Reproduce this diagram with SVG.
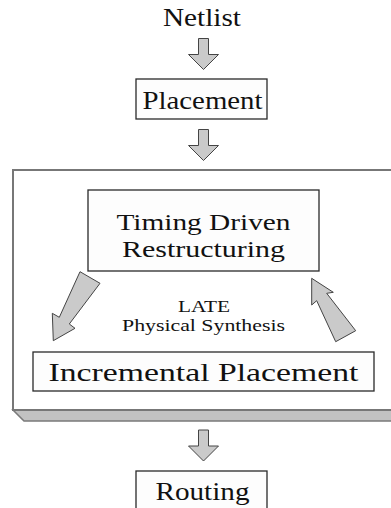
<svg xmlns="http://www.w3.org/2000/svg" width="391" height="508" viewBox="0 0 391 508">
  <style>
    .lbl { font-family: "Liberation Serif", "DejaVu Serif", serif; fill: #111; text-anchor: middle; }
    .big { font-size: 26px; }
    .pair { font-size: 24px; }
    .small { font-size: 16px; }
    .box { fill: #fdfdfd; stroke: #2a2a2a; stroke-width: 1.3; }
    .frame { fill: #ffffff; stroke: #777; stroke-width: 2; }
    .depth { fill: #c2c2c2; stroke: #7a7a7a; stroke-width: 1.5; }
    .arrow { fill: #cacaca; stroke: #444; stroke-width: 1; stroke-linejoin: miter; }
  </style>
  <defs>
    <!-- straight down block arrow, tip at origin -->
    <path id="down" d="M -5 -31 H 5 V -15 H 15 L 0 0 L -15 -15 H -5 Z"/>
  </defs>

  <rect width="391" height="508" fill="#ffffff"/>

  <!-- LATE frame with its extruded bottom edge -->
  <g id="late-frame">
    <polygon class="depth" points="13,410 395,410 395,421 24,421"/>
    <rect class="frame" x="13" y="170" width="390" height="240"/>
  </g>

  <g id="netlist">
    <text class="lbl big" x="202" y="26" textLength="78" lengthAdjust="spacingAndGlyphs">Netlist</text>
  </g>

  <g id="placement">
    <rect class="box" x="136" y="79" width="131" height="40"/>
    <text class="lbl big" x="202.5" y="109" textLength="120" lengthAdjust="spacingAndGlyphs">Placement</text>
  </g>

  <g id="timing-driven-restructuring">
    <rect class="box" x="88" y="190" width="231" height="81"/>
    <text class="lbl pair" x="203.5" y="230" textLength="174" lengthAdjust="spacingAndGlyphs">Timing Driven</text>
    <text class="lbl pair" x="203.5" y="257" textLength="163" lengthAdjust="spacingAndGlyphs">Restructuring</text>
  </g>

  <g id="late-label">
    <text class="lbl small" x="204" y="312" textLength="52" lengthAdjust="spacingAndGlyphs">LATE</text>
    <text class="lbl small" x="203.5" y="331" textLength="163" lengthAdjust="spacingAndGlyphs">Physical Synthesis</text>
  </g>

  <g id="incremental-placement">
    <rect class="box" x="33" y="352" width="341" height="39"/>
    <text class="lbl big" x="203.5" y="381" textLength="310" lengthAdjust="spacingAndGlyphs">Incremental Placement</text>
  </g>

  <g id="routing">
    <rect class="box" x="136" y="471" width="131" height="45"/>
    <text class="lbl big" x="202.5" y="500" textLength="94" lengthAdjust="spacingAndGlyphs">Routing</text>
  </g>

  <g id="connectors">
    <use href="#down" class="arrow" x="203.5" y="69.5"/>
    <use href="#down" class="arrow" x="203.5" y="160.5"/>
    <use href="#down" class="arrow" x="203.5" y="461"/>
    <!-- restructuring to incremental placement -->
    <polygon class="arrow" points="80,271.7 100,283.3 69.3,324 75,328.3 53.3,340.7 52.3,313.3 59.3,317.3"/>
    <!-- incremental placement back to restructuring -->
    <polygon class="arrow" points="311.7,278.3 333.3,292.3 326.7,293.3 355.7,330.7 335.7,341.7 316.7,300.7 311.7,305"/>
  </g>
</svg>
